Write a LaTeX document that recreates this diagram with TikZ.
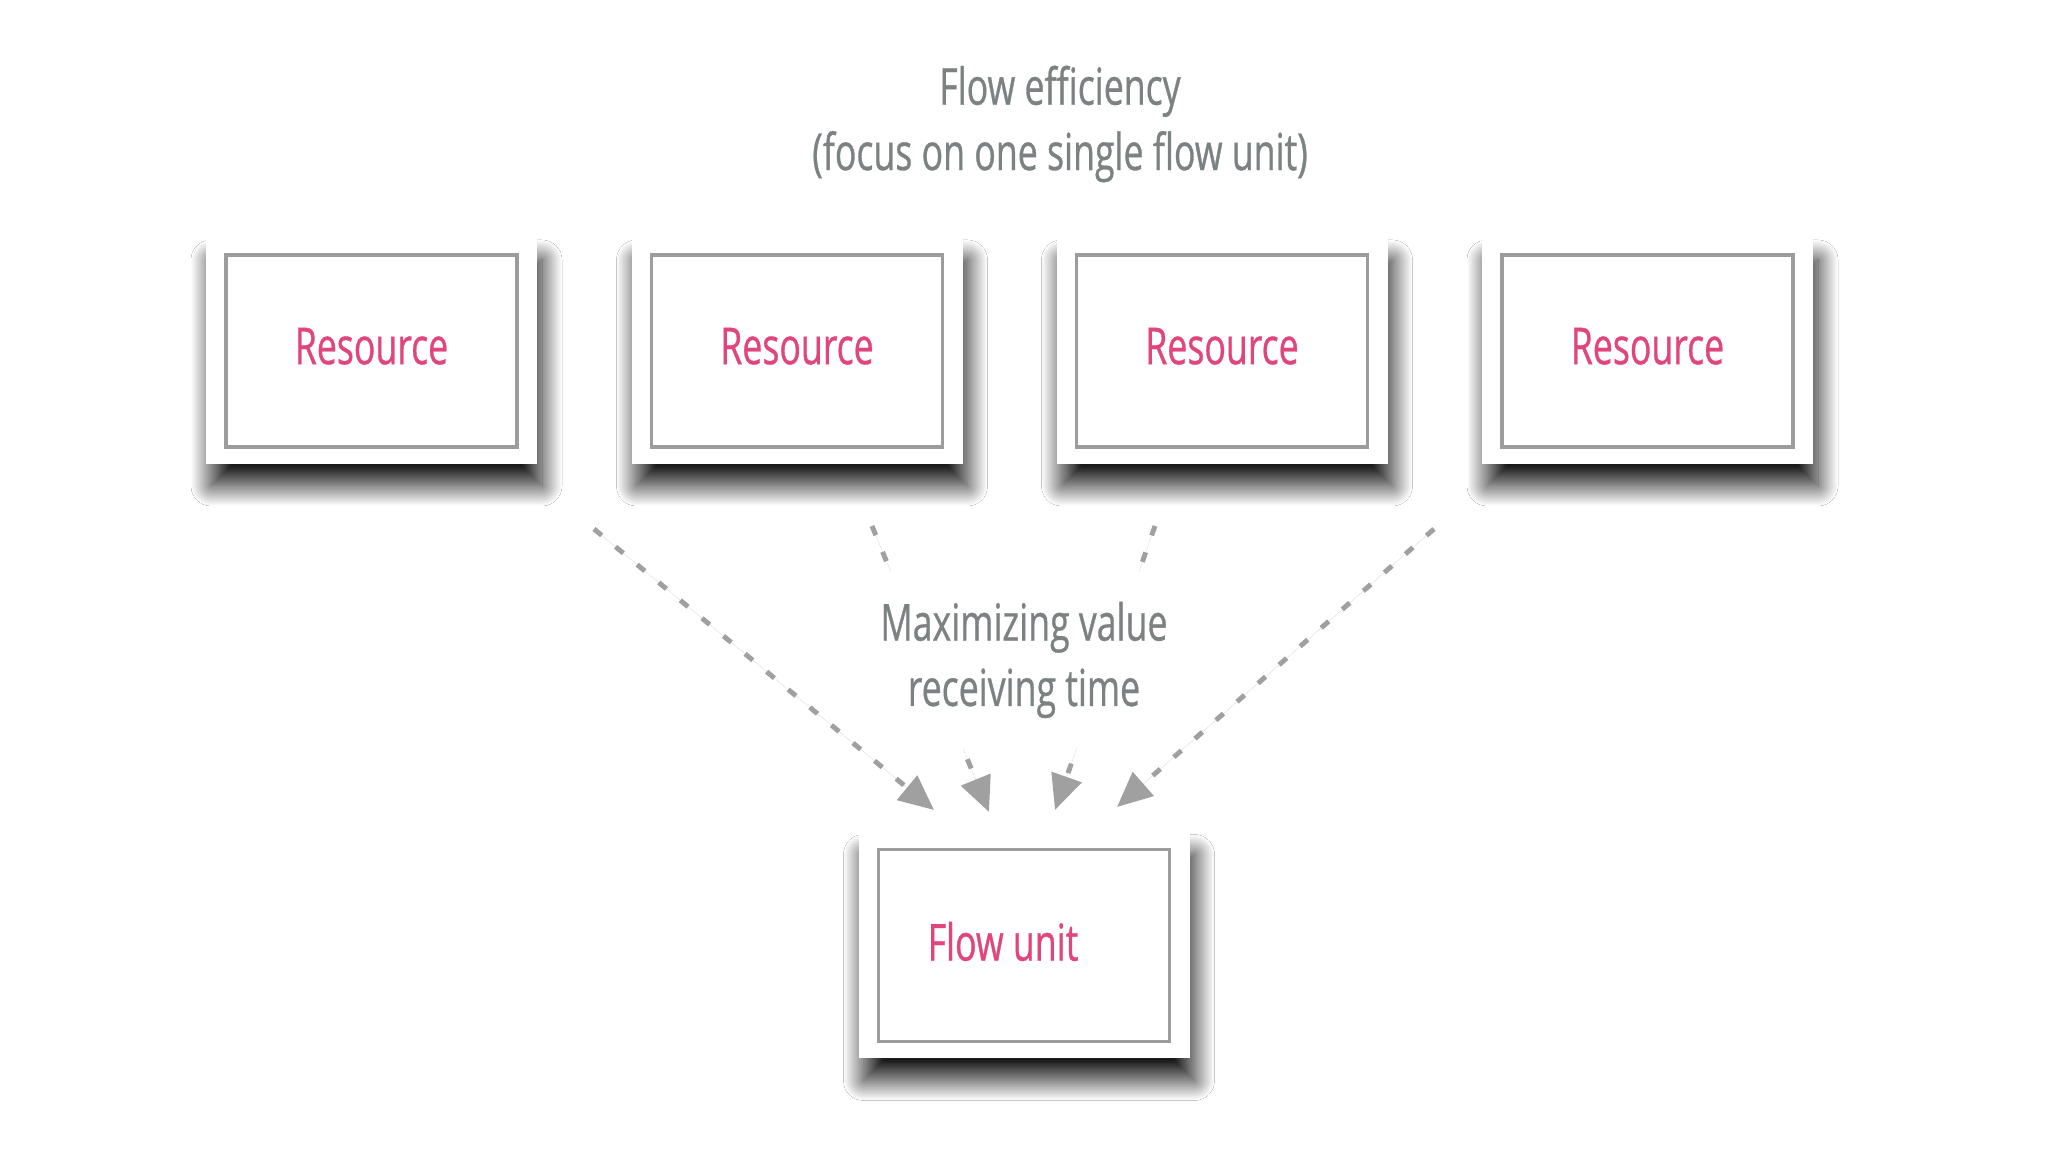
\documentclass[tikz,border=0pt]{standalone}
\usepackage{fontspec}
\setmainfont[FakeStretch=0.70, FakeBold=0.6]{Open Sans}
\usepackage{xcolor}
\usepackage{tikz}
\usetikzlibrary{arrows.meta,shadows.blur,positioning}

\definecolor{respink}{HTML}{E0457B}
\definecolor{notegray}{HTML}{7C8182}
\definecolor{framegray}{HTML}{9C9C9C}
\definecolor{arrowgray}{HTML}{A0A0A0}

\begin{document}
\begin{tikzpicture}[
  font=\fontsize{14.5}{18.6}\selectfont,
  card/.style={fill=white, minimum width=3.31cm, minimum height=2.26cm, text depth=0.1cm,
    blur shadow={shadow xshift=0.05cm, shadow yshift=-0.22cm,
      shadow blur radius=0.2cm, shadow blur steps=40, shadow opacity=90},
    path picture={\draw[framegray, line width=0.9pt]
      ([shift={(0.2cm,0.17cm)}]path picture bounding box.south west) rectangle
      ([shift={(-0.2cm,-0.17cm)}]path picture bounding box.north east);}},
  res/.style={text=respink},
  note/.style={text=notegray, align=center},
  ar/.style={-{Triangle[length=3.5mm, width=3.1mm]}, draw=arrowgray, fill=arrowgray,
    line width=1.4pt, dash pattern=on 1mm off 1.8mm},
]
\useasboundingbox[fill=white] (0,0) rectangle (20.48,11.52);

\node[note] (title) at (10.6,10.28) {Flow efficiency\\(focus on one single flow unit)};

\node[card, res] (r1) at (3.715,8.01) {Resource};
\node[card, res] (r2) at (7.97,8.01) {Resource};
\node[card, res] (r3) at (12.22,8.01) {Resource};
\node[card, res] (r4) at (16.475,8.01) {Resource};

\node[card] (flow) at (10.24,2.065) {};
\node[res] (flowtxt) at ([xshift=-0.21cm, yshift=0.04cm]flow.center) {Flow unit};

% free ends of the dashed arrows
\coordinate (s1) at (5.94,6.23);
\coordinate (s2) at (8.72,6.26);
\coordinate (s3) at (11.55,6.26);
\coordinate (s4) at (14.34,6.23);
\coordinate (t1) at (9.34,3.42);
\coordinate (t2) at (9.89,3.40);
\coordinate (t3) at (10.55,3.42);
\coordinate (t4) at (11.17,3.45);

\draw[ar] (s1) -- (t1);
\draw[ar] (s2) -- (t2);
\draw[ar] (s3) -- (t3);
\draw[ar] (s4) -- (t4);

\node[note, fill=white, inner xsep=0.15cm, inner ysep=0.3cm] (maxv) at (10.24,4.92)
  {Maximizing value\\receiving time};
\end{tikzpicture}
\end{document}
